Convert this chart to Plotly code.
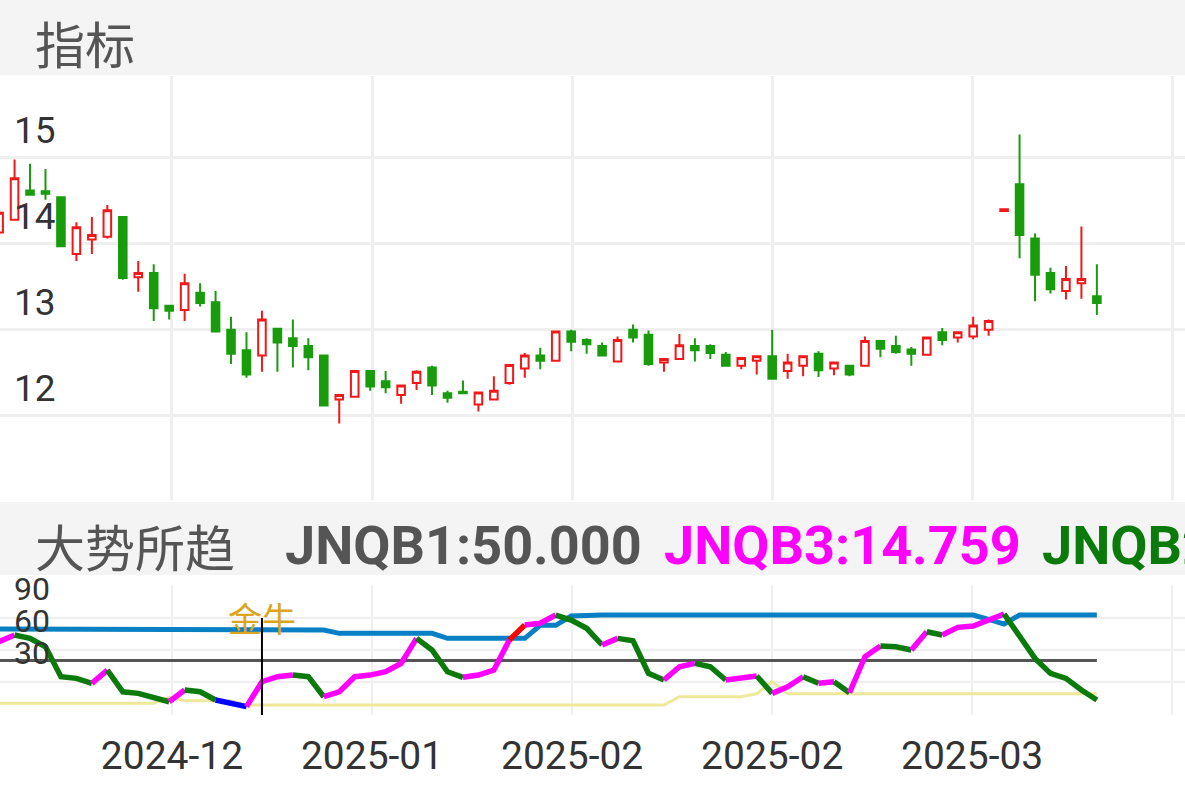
import plotly.graph_objects as go

# ---- data ----
opens  = [14.13,14.28,14.62,14.61,14.54,13.88,14.05,14.08,14.31,13.61,13.66,13.28,13.23,13.43,13.32,13.00,12.76,12.70,13.01,12.90,12.81,12.70,12.19,12.22,12.52,12.40,12.24,12.38,12.56,12.26,12.28,12.13,12.19,12.38,12.55,12.70,12.64,12.98,12.88,12.81,12.63,13.00,12.94,12.62,12.66,12.81,12.81,12.71,12.58,12.64,12.69,12.52,12.58,12.72,12.55,12.58,12.58,12.87,12.81,12.77,12.71,12.97,12.91,12.92,13.00,14.38,14.69,14.06,13.66,13.45,13.54,13.39]
closes = [14.36,14.76,14.57,14.58,13.97,14.19,14.10,14.39,13.60,13.66,13.25,13.22,13.54,13.31,12.98,12.72,12.48,13.12,12.85,12.81,12.68,12.12,12.24,12.52,12.34,12.33,12.35,12.51,12.35,12.21,12.26,12.27,12.29,12.59,12.70,12.64,12.98,12.86,12.83,12.70,12.88,12.91,12.60,12.66,12.82,12.76,12.73,12.58,12.67,12.69,12.43,12.62,12.69,12.53,12.62,12.48,12.87,12.78,12.74,12.72,12.91,12.88,12.97,13.05,13.10,14.40,14.10,13.64,13.47,13.59,13.59,13.31]
highs  = [14.40,14.98,14.93,14.87,14.55,14.25,14.31,14.45,14.31,13.80,13.76,13.28,13.65,13.54,13.45,13.15,12.97,13.22,13.01,13.12,12.90,12.71,12.25,12.52,12.53,12.52,12.35,12.53,12.58,12.29,12.41,12.27,12.46,12.60,12.73,12.79,12.98,13.00,12.90,12.85,12.92,13.06,12.99,12.66,12.95,12.90,12.83,12.74,12.68,12.70,13.00,12.72,12.69,12.75,12.62,12.59,12.92,12.88,12.93,12.80,12.91,13.02,12.97,13.15,13.12,14.40,15.27,14.12,13.72,13.74,14.20,13.76]
lows   = [14.10,14.28,14.56,14.51,13.96,13.80,13.88,14.06,13.58,13.44,13.10,13.12,13.10,13.27,12.97,12.60,12.44,12.51,12.51,12.56,12.53,12.12,11.91,12.22,12.29,12.26,12.14,12.30,12.24,12.15,12.26,12.05,12.19,12.36,12.44,12.54,12.64,12.75,12.72,12.69,12.63,12.85,12.58,12.51,12.66,12.63,12.66,12.57,12.54,12.48,12.42,12.43,12.46,12.45,12.47,12.46,12.57,12.68,12.72,12.58,12.71,12.82,12.85,12.89,12.93,14.38,13.83,13.33,13.42,13.35,13.36,13.17]

jnqb3 = [37.7,43.9,40.8,33.0,5.0,3.4,-1.2,11.2,-9.1,-10.6,-14.3,-18.4,-7.5,-9.1,-16.8,-19.3,-23.0,0.3,5.0,6.5,5.0,-13.7,-9.1,5.0,6.5,9.6,17.4,40.8,29.9,9.6,4.4,6.5,11.2,39.3,53.3,54.9,62.6,57.9,50.2,34.6,40.8,38.6,8.1,1.9,14.3,17.4,14.3,1.9,3.4,5.6,-10.6,-4.4,5.0,-1.2,0.3,-10.0,23.6,33.6,33.0,29.9,47.0,43.9,51.1,52.3,57.9,63.6,42.3,22.1,8.1,3.4,-7.5,-16.8]
jnqb_blue = [49.5,49.5,49.5]+[48.6]*19+[45.5]*7+[40.8]*6+[53.0,53.0,61.7]+[62.6]*26+[58.6,54.2]+[62.6]*6
jnqb_yellow = [-19.9]*11+[-14.3]+[-17.5]*4+[-21.5]*28+[-13.7]*5+[-11.0,0.3]+[-11.0]*21
level_line = 20
blue_segments = [14, 15]
red_segments = [33]
signal_index = 17
signal_text = "金牛"

tick_pos = [11.18, 24.12, 37.06, 50.0, 62.93, 75.87]
tick_text = ["2024-12", "2025-01", "2025-02", "2025-02", "2025-03", ""]
price_ticks = [11, 12, 13, 14, 15]
ind_ticks = [90, 60, 30]

N = len(opens)
xs = list(range(N))
W, H = 1185, 788

fig = go.Figure()
fig.add_trace(go.Candlestick(
    x=xs, open=opens, high=highs, low=lows, close=closes,
    increasing=dict(line=dict(color="#f01818", width=2), fillcolor="white"),
    decreasing=dict(line=dict(color="#189c0c", width=2), fillcolor="#189c0c"),
    whiskerwidth=0, showlegend=False, xaxis="x", yaxis="y"))

fig.add_trace(go.Scatter(x=xs, y=jnqb_yellow, mode="lines", line=dict(color="#eee89a", width=3),
                         xaxis="x2", yaxis="y2", showlegend=False))
fig.add_trace(go.Scatter(x=[0, N - 1], y=[level_line, level_line], mode="lines",
                         line=dict(color="#555555", width=3), xaxis="x2", yaxis="y2", showlegend=False))
fig.add_trace(go.Scatter(x=xs[:len(jnqb_blue)], y=jnqb_blue, mode="lines", line=dict(color="#0a80c4", width=5),
                         xaxis="x2", yaxis="y2", showlegend=False))

def seg_color(i):
    if i in blue_segments:
        return "#0000ff"
    if i in red_segments:
        return "#ff0000"
    return "#ff00ff" if jnqb3[i + 1] >= jnqb3[i] else "#0a7a0a"

runs = []
for i in range(N - 1):
    c = seg_color(i)
    if runs and runs[-1][0] == c:
        runs[-1][1].append(i + 1)
    else:
        runs.append([c, [i, i + 1]])
for c, idx in runs:
    fig.add_trace(go.Scatter(x=idx, y=[jnqb3[j] for j in idx], mode="lines",
                             line=dict(color=c, width=5.5), xaxis="x2", yaxis="y2", showlegend=False))

xr = [0.058, 76.7]
grid = "#efefef"
fig.update_layout(
    width=W, height=H, margin=dict(l=0, r=0, t=0, b=0),
    paper_bgcolor="white", plot_bgcolor="white",
    font=dict(family="Roboto, Noto Sans CJK SC", color="#333"),
    xaxis=dict(domain=[0, 1], range=xr, showticklabels=False, tickvals=tick_pos, showgrid=True,
               gridcolor=grid, gridwidth=3, zeroline=False, rangeslider=dict(visible=False), anchor="y"),
    yaxis=dict(domain=[1 - 500 / H, 1 - 76 / H], range=[11.02, 15.95], tickvals=price_ticks,
               showticklabels=False, showgrid=True, gridcolor=grid, gridwidth=3, zeroline=False),
    xaxis2=dict(domain=[0, 1], range=xr, tickvals=tick_pos, ticktext=tick_text, showgrid=True,
                gridcolor=grid, gridwidth=2, zeroline=False, anchor="y2",
                tickfont=dict(size=39, color="#333"), ticks="", ticklabelstandoff=14),
    yaxis2=dict(domain=[1 - 715 / H, 1 - 585 / H], range=[-30.8, 90.65], tickvals=[90, 60, 30, 0],
                showticklabels=False, showgrid=True, gridcolor=grid, gridwidth=2, zeroline=False),
)

shapes = [
    dict(type="rect", xref="paper", yref="paper", x0=0, x1=1, y0=1 - 75 / H, y1=1,
         fillcolor="#f4f4f4", line=dict(width=0), layer="below"),
    dict(type="rect", xref="paper", yref="paper", x0=0, x1=1, y0=1 - 575 / H, y1=1 - 502 / H,
         fillcolor="#f4f4f4", line=dict(width=0), layer="below"),
    dict(type="line", xref="x2", yref="y2", x0=signal_index, x1=signal_index, y0=59.8, y1=-30.8,
         line=dict(color="black", width=2)),
]
fig.update_layout(shapes=shapes)

ann = []
for t in price_ticks:
    ann.append(dict(x=0.01, xref="paper", y=t, yref="y", text=str(t), showarrow=False, xanchor="left",
                    yanchor="middle", yshift=27, font=dict(size=37, color="#333")))
for t in ind_ticks:
    ann.append(dict(x=0.01, xref="paper", y=t, yref="y2", text=str(t), showarrow=False, xanchor="left",
                    yanchor="middle", yshift=-3, font=dict(size=32, color="#333")))
ann += [
    dict(x=33 / W, y=1 - 42 / H, xref="paper", yref="paper", text="指标", showarrow=False, xanchor="left",
         yanchor="middle", font=dict(size=50, color="#555", family="Noto Sans CJK SC")),
    dict(x=33 / W, y=1 - 545 / H, xref="paper", yref="paper", text="大势所趋", showarrow=False, xanchor="left",
         yanchor="middle", font=dict(size=50, color="#555", family="Noto Sans CJK SC")),
    dict(x=283 / W, y=1 - 545 / H, xref="paper", yref="paper", text="<b>JNQB1:50.000</b>", showarrow=False,
         xanchor="left", yanchor="middle", font=dict(size=54, color="#555", family="Roboto")),
    dict(x=662 / W, y=1 - 545 / H, xref="paper", yref="paper", text="<b>JNQB3:14.759</b>", showarrow=False,
         xanchor="left", yanchor="middle", font=dict(size=54, color="#ff00ff", family="Roboto")),
    dict(x=1040 / W, y=1 - 545 / H, xref="paper", yref="paper", text="<b>JNQB2</b>", showarrow=False,
         xanchor="left", yanchor="middle", font=dict(size=54, color="#0a7a0a", family="Roboto")),
    dict(x=signal_index, y=60, xref="x2", yref="y2", text=signal_text, showarrow=False, xanchor="center",
         yanchor="middle", font=dict(size=34, color="#daa520", family="Noto Sans CJK SC")),
]
fig.update_layout(annotations=ann)

fig.write_html("out.html", config={"displayModeBar": False},
               post_script="document.body.style.margin='0';document.body.style.overflow='hidden';")
